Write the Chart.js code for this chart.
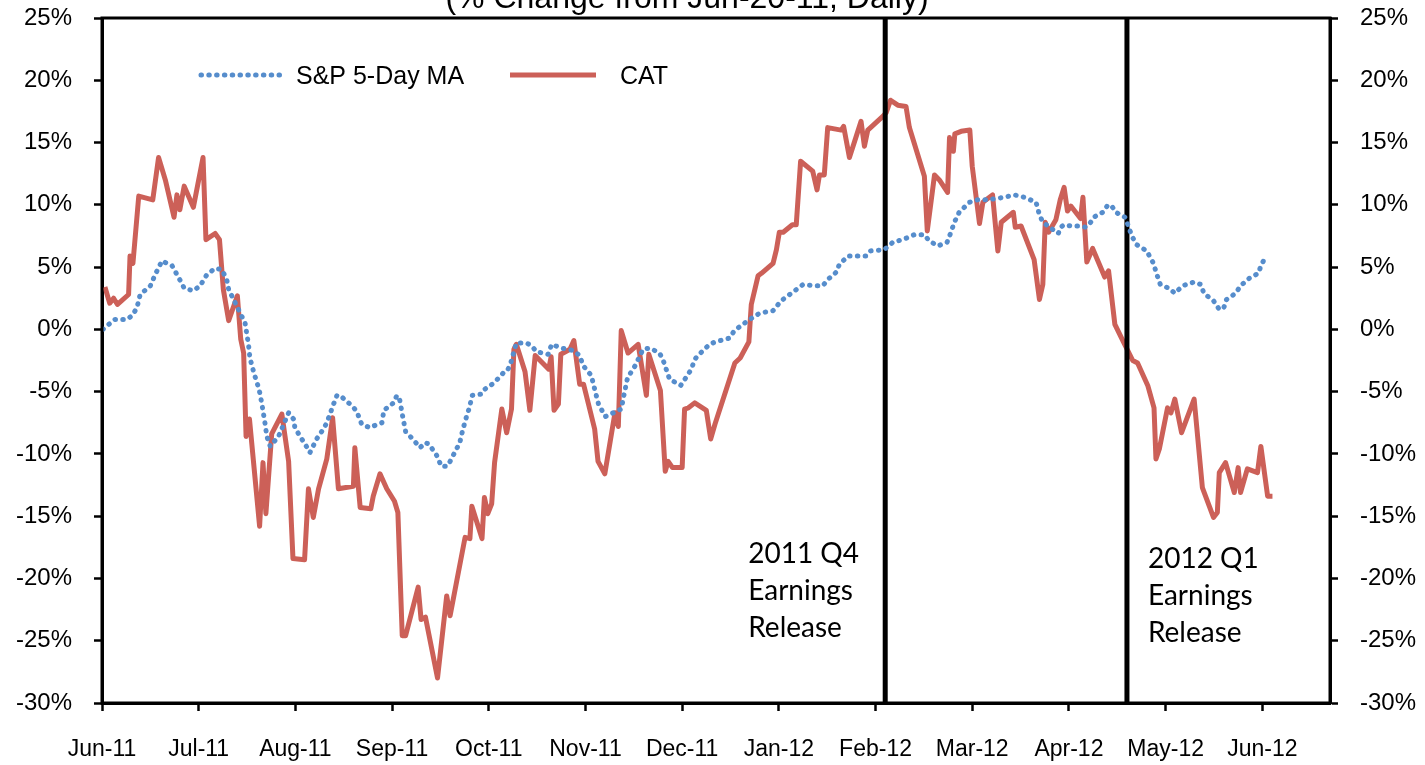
<!DOCTYPE html>
<html><head><meta charset="utf-8">
<script src="https://cdn.jsdelivr.net/npm/chart.js@4.4.1/dist/chart.umd.min.js"></script>
<style>html,body{margin:0;padding:0;background:#fff;}#wrap{width:1425px;height:765px;position:relative;}</style>
</head><body><div id="wrap"><canvas id="c"></canvas></div>
<script>
const chartTitle = '(% Change from Jun-20-11, Daily)';
const monthLabels = ['Jun-11','Jul-11','Aug-11','Sep-11','Oct-11','Nov-11','Dec-11','Jan-12','Feb-12','Mar-12','Apr-12','May-12','Jun-12'];
const seriesNames = ['S&P 5-Day MA', 'CAT'];
const catDays = [0.6,1.6,2.4,3.2,5.5,5.8,6.4,7.6,10.5,11.7,13.1,14.9,15.5,16.1,17.0,18.9,20.9,21.5,23.4,24.3,25.1,26.2,28.0,28.7,29.3,29.8,30.5,32.6,33.3,33.9,35.1,37.2,38.6,39.5,41.9,42.7,43.7,44.8,46.5,47.7,48.9,52.0,52.3,53.4,55.6,56.1,57.5,58.9,60.5,61.2,62.1,62.8,65.4,66.0,66.9,69.4,71.3,72.0,75.1,76.1,76.5,78.6,79.1,79.8,80.6,81.2,82.7,83.7,84.7,85.2,85.7,87.5,88.5,89.6,92.4,92.9,93.5,94.4,94.9,96.8,97.6,98.8,99.6,101.9,102.6,104.0,106.1,106.8,107.4,108.8,110.9,112.6,113.1,115.5,116.5,117.1,118.0,120.0,120.5,121.3,122.6,125.0,125.9,126.8,130.9,132.0,133.8,134.3,135.7,136.4,138.8,139.5,140.1,140.9,142.8,143.6,144.5,147.0,147.9,148.4,149.4,150.1,152.9,153.4,154.6,157.0,157.7,158.4,161.5,162.2,163.1,164.6,166.3,167.0,170.1,170.7,172.2,173.2,174.9,175.3,176.1,176.4,177.7,179.5,180.0,181.5,182.2,184.2,185.3,186.0,188.5,188.9,190.1,192.8,193.9,194.6,195.1,195.8,197.3,198.2,199.0,199.7,200.4,202.4,202.9,203.7,204.9,207.4,208.2,209.5,211.4,213.2,214.2,216.3,217.6,218.0,218.7,220.4,221.1,221.9,223.3,225.9,227.6,229.9,230.7,231.1,232.4,234.2,235.0,235.5,236.9,239.0,239.7,241.1,242.1];
const catValues = [3.4,2.1,2.5,2.0,2.8,5.9,5.3,10.7,10.4,13.8,12.0,9.0,10.8,9.6,11.5,9.8,13.8,7.2,7.7,7.2,3.2,0.7,2.7,-0.8,-1.9,-8.6,-7.2,-15.8,-10.7,-14.8,-8.4,-6.8,-10.6,-18.4,-18.5,-12.8,-15.1,-12.8,-10.4,-7.1,-12.8,-12.6,-9.5,-14.3,-14.4,-13.4,-11.6,-12.8,-13.8,-14.7,-24.6,-24.6,-20.7,-23.3,-23.1,-28.0,-21.4,-23.0,-16.7,-16.8,-14.2,-16.8,-13.5,-14.8,-14.0,-10.7,-6.4,-8.3,-6.4,-1.6,-1.2,-3.4,-6.5,-2.1,-3.2,-2.2,-6.5,-6.0,-2.0,-1.6,-0.9,-4.4,-4.4,-8.0,-10.6,-11.6,-6.7,-7.8,-0.1,-1.9,-1.2,-5.3,-2.0,-4.9,-11.4,-10.6,-11.1,-11.1,-6.4,-6.3,-5.9,-6.5,-8.8,-7.6,-2.7,-2.3,-1.0,2.0,4.3,4.5,5.3,6.4,7.8,7.8,8.4,8.4,13.5,12.7,11.2,12.4,12.4,16.2,16.0,16.3,13.8,16.7,14.7,16.0,17.1,17.4,18.4,18.0,17.9,16.2,12.3,7.9,12.4,12.0,11.0,15.4,14.3,15.7,15.9,16.0,13.1,8.5,10.2,10.8,6.3,8.6,9.4,8.2,8.3,5.6,2.4,3.6,8.6,7.8,8.8,10.4,11.4,9.5,9.9,8.9,10.6,5.4,6.5,4.2,4.7,0.4,-1.1,-2.5,-2.7,-4.5,-6.3,-10.4,-9.6,-6.3,-6.7,-5.6,-8.3,-5.6,-12.7,-15.1,-14.7,-11.5,-10.7,-13.1,-11.1,-13.1,-11.2,-11.5,-9.4,-13.4,-13.4];
const spDays = [0.2,1.4,2.7,5.2,6.2,7.2,7.9,10.0,11.0,12.4,14.5,15.5,16.5,17.0,18.9,20.3,21.7,23.4,24.8,25.8,26.2,28.6,29.6,30.0,30.3,30.6,31.5,32.4,32.7,33.2,33.7,34.1,34.8,36.5,38.6,39.6,39.9,41.3,42.0,43.0,44.4,45.8,46.5,47.9,48.6,49.2,51.3,52.3,53.0,53.7,55.4,56.5,57.9,58.3,60.3,61.0,61.6,62.1,62.8,64.7,65.8,66.8,67.6,69.2,70.2,71.3,72.0,73.2,74.0,74.6,75.4,75.9,76.6,78.5,79.2,79.9,81.1,83.0,83.7,84.4,85.7,87.8,88.8,89.9,92.3,93.0,95.0,97.5,98.8,99.5,101.2,101.9,102.7,104.1,107.4,108.0,108.7,110.3,111.9,113.3,115.3,116.0,116.7,117.4,119.7,120.9,121.9,122.6,124.3,125.7,126.9,129.8,130.8,131.5,133.6,136.0,138.8,140.5,142.6,145.0,147.4,149.1,150.1,151.9,152.5,154.3,156.7,158.1,159.0,161.8,163.6,165.6,168.0,170.1,171.1,172.9,174.8,175.6,176.3,177.3,179.4,181.1,183.2,186.6,188.7,190.8,193.2,193.9,194.6,197.8,198.3,199.0,200.4,202.3,203.5,204.5,205.1,207.0,207.9,208.7,209.7,211.6,212.3,213.0,214.0,216.1,216.9,217.5,218.1,218.9,220.7,221.9,223.5,225.9,227.3,227.9,229.9,231.1,232.0,232.6,234.5,235.5,237.3,239.2,239.7,240.5,241.2];
const spValues = [0.0,0.4,0.8,0.8,1.1,1.7,2.8,3.5,4.4,5.5,5.1,4.4,3.7,3.3,3.1,3.5,4.4,4.9,4.8,4.0,3.2,1.3,0.5,-0.5,-1.2,-2.3,-3.6,-4.7,-5.2,-6.3,-7.5,-8.6,-9.4,-8.6,-6.7,-7.2,-7.9,-8.8,-9.2,-9.9,-8.8,-8.0,-7.5,-6.0,-5.3,-5.3,-6.0,-6.4,-6.9,-7.6,-7.9,-7.7,-7.5,-6.5,-5.9,-5.3,-5.7,-6.8,-8.2,-9.0,-9.5,-9.1,-9.2,-10.1,-11.0,-11.0,-10.6,-9.7,-9.1,-8.1,-7.0,-6.4,-5.3,-5.2,-4.8,-4.6,-4.3,-3.5,-3.4,-2.9,-1.1,-1.1,-1.3,-1.8,-2.0,-1.2,-1.5,-1.7,-2.1,-2.9,-3.7,-4.8,-6.0,-7.0,-6.4,-5.2,-3.9,-2.9,-1.6,-1.5,-1.9,-2.4,-3.2,-4.0,-4.5,-3.8,-3.2,-2.4,-1.7,-1.2,-1.0,-0.7,-0.1,0.1,0.7,1.3,1.5,2.3,2.9,3.6,3.5,3.5,4.0,4.6,5.2,5.9,5.9,5.9,6.3,6.4,7.0,7.2,7.6,7.6,7.1,6.7,7.0,7.8,8.6,9.4,10.2,10.4,10.4,10.6,10.8,10.6,10.2,9.2,8.6,7.7,8.2,8.4,8.3,8.3,8.2,8.6,9.0,9.4,9.9,10.0,9.4,9.0,8.3,7.5,6.8,6.3,5.7,5.3,4.5,3.6,3.3,2.9,3.5,3.8,3.6,2.9,2.3,1.6,1.7,2.4,2.9,3.5,4.1,4.5,5.1,5.7,5.7];
const releaseDays = [162, 212];
const releaseLabels = [['2011 Q4','Earnings','Release'], ['2012 Q1','Earnings','Release']];
const yMin = -30, yMax = 25, yStep = 5;
const xMax = 254, xStep = 20;

const RED = 'rgb(204,96,88)';
const BLUE = 'rgb(86,141,204)';
const AXIS_FONT = '"Liberation Sans", Arial, sans-serif';

const toPts = (xs, ys) => xs.map((x, i) => ({x: x, y: ys[i]}));

const releaseSets = releaseDays.map(d => ({
  label: 'release', data: [{x: d, y: yMin}, {x: d, y: yMax}],
  borderColor: '#000', borderWidth: 5, pointRadius: 0, yAxisID: 'y'
}));

const overlay = {
  id: 'overlay',
  beforeDraw(chart) {
    const ctx = chart.ctx;
    ctx.save(); ctx.fillStyle = '#fff'; ctx.fillRect(0, 0, chart.width, chart.height); ctx.restore();
  },
  afterDraw(chart) {
    const ctx = chart.ctx, ca = chart.chartArea, xs = chart.scales.x;
    ctx.save();
    ctx.strokeStyle = '#000'; ctx.lineWidth = 3;
    ctx.strokeRect(ca.left, ca.top, ca.right - ca.left, ca.bottom - ca.top);
    ctx.fillStyle = '#000';
    ctx.font = '32px ' + AXIS_FONT; ctx.textAlign = 'center'; ctx.textBaseline = 'alphabetic';
    ctx.fillText(chartTitle, 687, 8);
    ctx.lineWidth = 5; ctx.lineCap = 'round';
    ctx.strokeStyle = BLUE; ctx.setLineDash([0.5, 7.3]);
    ctx.beginPath(); ctx.moveTo(201, 75); ctx.lineTo(284, 75); ctx.stroke();
    ctx.setLineDash([]); ctx.lineCap = 'butt';
    ctx.strokeStyle = RED;
    ctx.beginPath(); ctx.moveTo(510, 75); ctx.lineTo(596, 75); ctx.stroke();
    ctx.font = '25px ' + AXIS_FONT; ctx.textAlign = 'left'; ctx.textBaseline = 'middle';
    ctx.fillText(seriesNames[0], 296, 77);
    ctx.fillText(seriesNames[1], 620, 77);
    ctx.font = '28px Lato, "Open Sans", sans-serif';
    const offs = [{dx: -137, y: 554}, {dx: 21, y: 559}];
    releaseDays.forEach((d, i) => {
      const px = xs.getPixelForValue(d);
      releaseLabels[i].forEach((t, j) => ctx.fillText(t, px + offs[i].dx, offs[i].y + j * 37));
    });
    ctx.restore();
  }
};

const yTickCfg = {
  color: '#000', font: {family: AXIS_FONT, size: 24}, padding: 22, stepSize: yStep,
  callback: v => v + '%'
};
const gridCfg = {drawOnChartArea: false, drawTicks: true, tickLength: 8, tickWidth: 2.5, tickColor: '#000'};
const borderCfg = {display: true, color: '#000', width: 3};
const fitY = w => s => { s.width = w; s.paddingTop = 0; s.paddingBottom = 0; };

new Chart(document.getElementById('c'), {
  type: 'line',
  data: {
    datasets: [
      {label: seriesNames[0], data: toPts(spDays, spValues), borderColor: BLUE, borderWidth: 5,
       borderDash: [0.5, 7.3], borderCapStyle: 'round', borderJoinStyle: 'round', pointRadius: 0, yAxisID: 'y1'},
      ...releaseSets,
      {label: seriesNames[1], data: toPts(catDays, catValues), borderColor: RED, borderWidth: 5,
       borderJoinStyle: 'round', pointRadius: 0, yAxisID: 'y'}
    ]
  },
  options: {
    responsive: true, maintainAspectRatio: false, animation: false,
    layout: {padding: {top: 18, left: 0, right: 0, bottom: 0}},
    plugins: {legend: {display: false}, tooltip: {enabled: false}, title: {display: false}},
    elements: {line: {tension: 0}},
    scales: {
      x: {
        type: 'linear', min: 0, max: xMax, position: 'bottom',
        grid: gridCfg, border: borderCfg,
        afterBuildTicks: s => { s.ticks = s.ticks.filter(t => t.value % xStep === 0); },
        afterFit: s => { s.height = 62; },
        ticks: {stepSize: xStep, autoSkip: false, maxRotation: 0, color: '#000',
          font: {family: AXIS_FONT, size: 23}, padding: 25,
          callback: v => monthLabels[v / xStep] || ''}
      },
      y: {
        type: 'linear', min: yMin, max: yMax, position: 'left',
        grid: gridCfg, border: borderCfg, ticks: yTickCfg,
        afterFit: fitY(102)
      },
      y1: {
        type: 'linear', min: yMin, max: yMax, position: 'right',
        grid: gridCfg, border: borderCfg, ticks: yTickCfg,
        afterFit: fitY(95)
      }
    }
  },
  plugins: [overlay]
});
</script></body></html>
